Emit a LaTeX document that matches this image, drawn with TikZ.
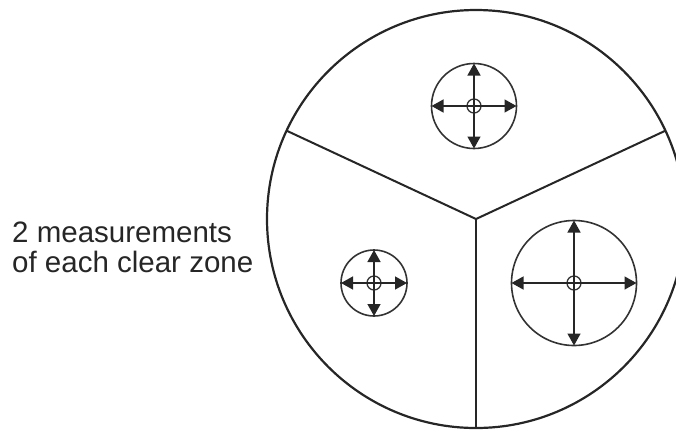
\documentclass[tikz,border=0pt]{standalone}
\usepackage{fontspec}
\setmainfont{Liberation Sans}
\usetikzlibrary{arrows.meta,positioning}

\begin{document}
\begin{tikzpicture}[
        x=1pt, y=-1pt,
        plate/.style={circle, draw=black!85, line width=2.2pt, minimum size=418pt, inner sep=0pt, outer sep=0pt},
        zone/.style={circle, draw=black!80, line width=1.6pt, inner sep=0pt, outer sep=0pt},
        hub/.style={circle, draw=black!80, line width=1.3pt, minimum size=14pt, inner sep=0pt},
        divider/.style={draw=black!85, line width=2pt},
        measure/.style={{Triangle[length=12pt,width=13pt]}-{Triangle[length=12pt,width=13pt]}, draw=black!85, line width=1.4pt}
    ]
    \useasboundingbox (0,0) rectangle (676,432);
    \clip (0,0) rectangle (676,432);

    % Label
    \node[anchor=base west, align=left, inner sep=0pt, font=\fontsize{29.5}{30}\selectfont, text=black!85] (label) at (12,272) {2 measurements\\of each clear zone};

    % Plate and its three sectors
    \node[plate] (dish) at (476,219) {};
    \draw[divider] (dish.center) -- (dish.155);
    \draw[divider] (dish.center) -- (dish.25);
    \draw[divider] (dish.center) -- (dish.south);

    % Clear zones
    \node[zone, minimum size=85pt] (topzone) at (474,106) {};
    \node[zone, minimum size=66pt] (leftzone) at (374,283) {};
    \node[zone, minimum size=125pt] (rightzone) at (574,283) {};

    % Discs
    \node[hub] (tophub) at (topzone.center) {};
    \node[hub] (lefthub) at (leftzone.center) {};
    \node[hub] (righthub) at (rightzone.center) {};

    % Measurements
    \draw[measure] (topzone.west) -- (topzone.east);
    \draw[measure] (topzone.north) -- (topzone.south);
    \draw[measure] (leftzone.west) -- (leftzone.east);
    \draw[measure] (leftzone.north) -- (leftzone.south);
    \draw[measure] (rightzone.west) -- (rightzone.east);
    \draw[measure] (rightzone.north) -- (rightzone.south);

\end{tikzpicture}
\end{document}
